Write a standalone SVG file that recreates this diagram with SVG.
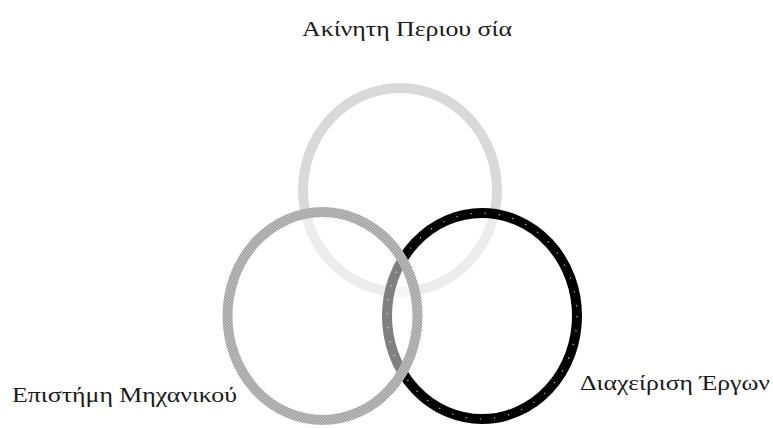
<svg xmlns="http://www.w3.org/2000/svg" width="773" height="428" viewBox="0 0 773 428">
  <defs>
    <pattern id="checker" width="3" height="3" patternUnits="userSpaceOnUse">
      <rect width="3" height="3" fill="#c4c4c4"/>
      <rect width="1.5" height="1.5" fill="#9a9a9a"/>
      <rect x="1.5" y="1.5" width="1.5" height="1.5" fill="#9a9a9a"/>
    </pattern>
  </defs>
  <style>
    .lbl { font-family: "Liberation Serif", "DejaVu Serif", serif; font-size: 21px; fill: #1a1a1a; }
    .veil { fill: #ffffff; fill-opacity: 0.5; }
  </style>
  <rect width="773" height="428" fill="#ffffff"/>
  <g id="top-circle">
    <ellipse cx="400" cy="190" rx="97" ry="102" fill="none" stroke="#d9d9d9" stroke-width="10"/>
  </g>
  <g id="right-circle">
    <ellipse cx="482" cy="316" rx="95" ry="103" class="veil"/>
    <ellipse cx="482" cy="316" rx="95" ry="103" fill="none" stroke="#000" stroke-width="10"/>
    <ellipse cx="482" cy="316" rx="95" ry="103" fill="none" stroke="#fff" stroke-opacity="0.8" stroke-width="1.2" stroke-dasharray="1.2 13"/>
  </g>
  <g id="left-circle">
    <ellipse cx="322.5" cy="316" rx="95" ry="104" class="veil"/>
    <ellipse cx="322.5" cy="316" rx="95" ry="104" fill="none" stroke="url(#checker)" stroke-width="10"/>
  </g>
  <g id="labels">
    <text class="lbl" x="302" y="36" textLength="210" lengthAdjust="spacingAndGlyphs">Ακίνητη Περιου σία</text>
    <text class="lbl" x="12" y="402" textLength="225" lengthAdjust="spacingAndGlyphs">Επιστήμη Μηχανικού</text>
    <text class="lbl" x="580" y="390" textLength="190" lengthAdjust="spacingAndGlyphs">Διαχείριση Έργων</text>
  </g>
</svg>
